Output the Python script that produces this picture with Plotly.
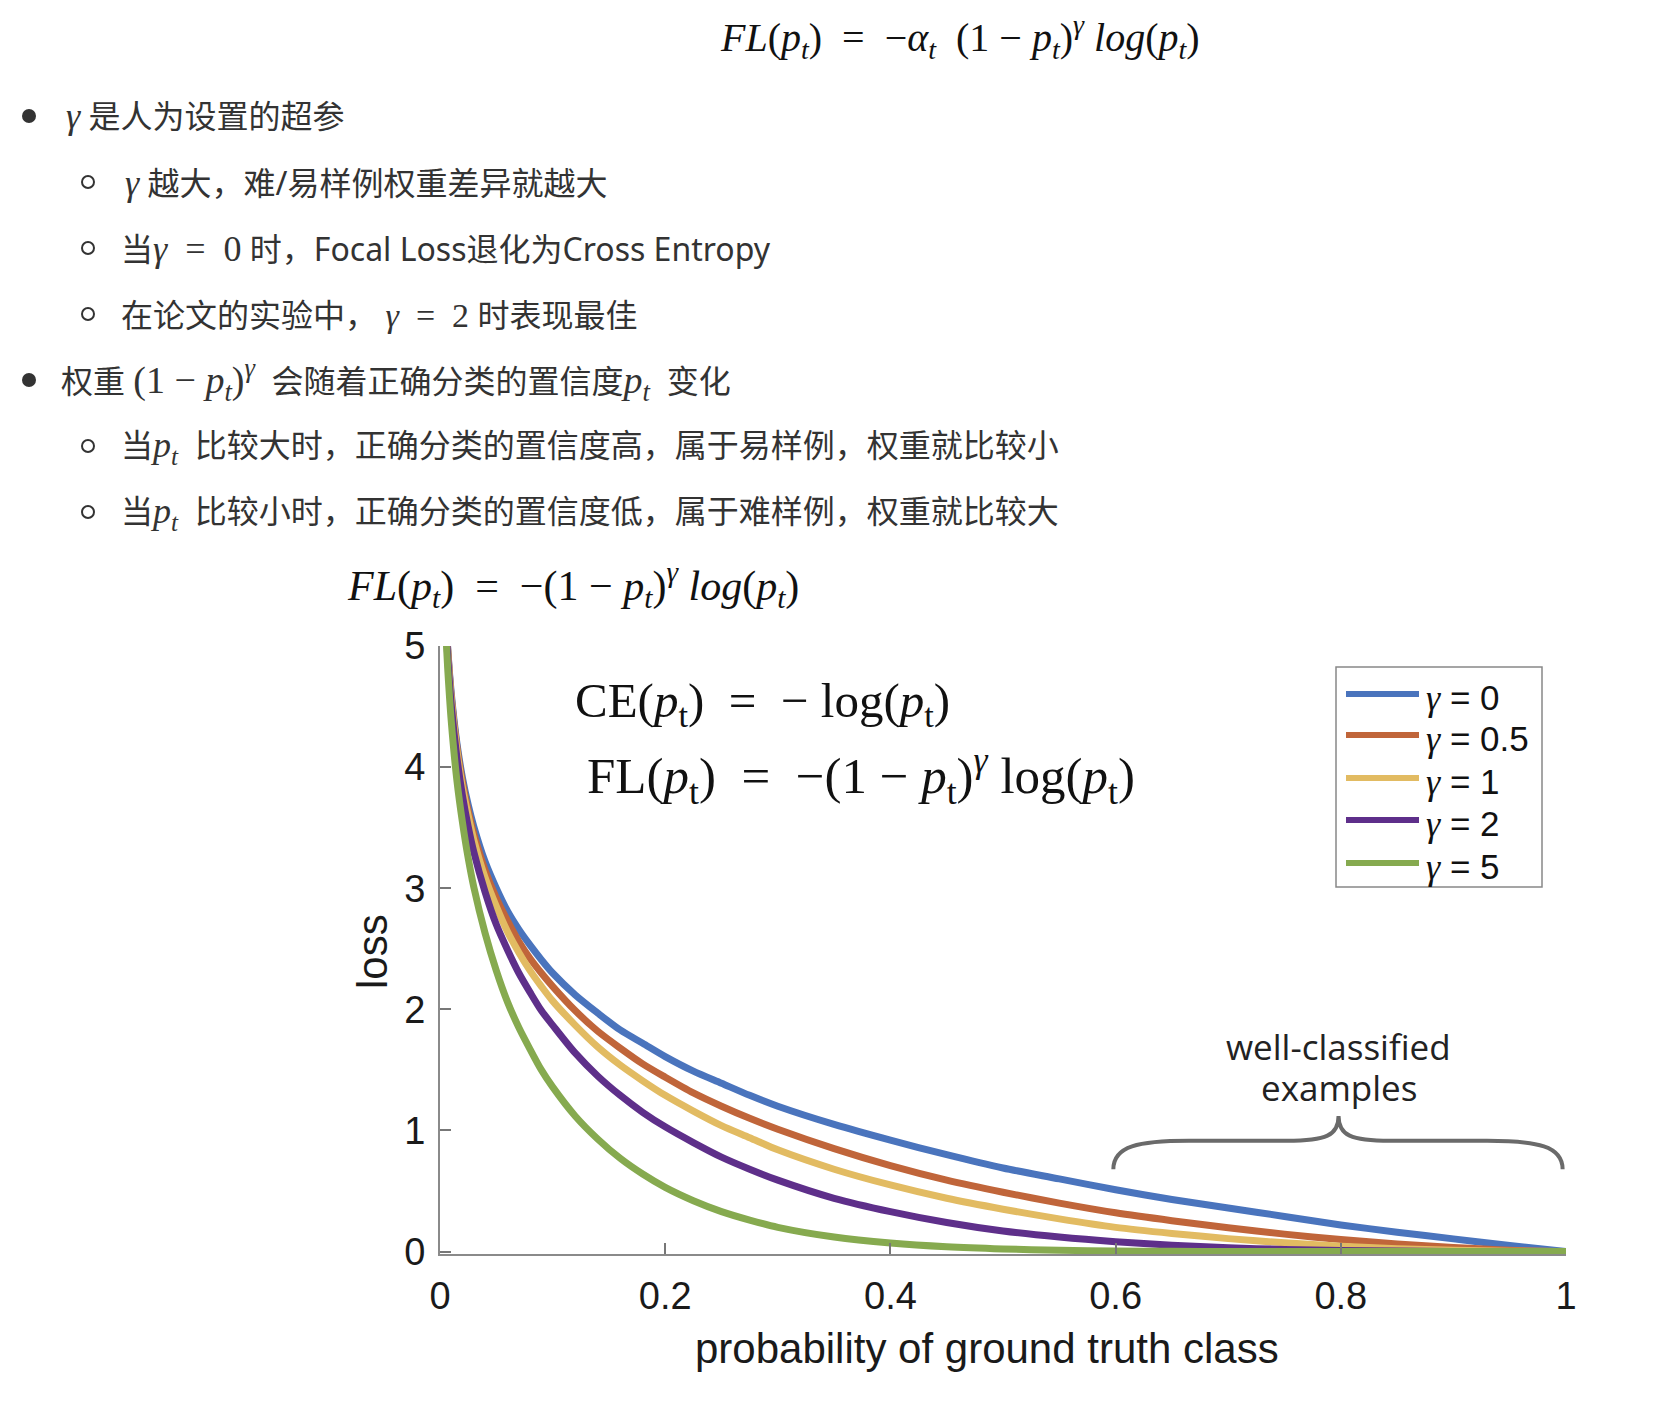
import plotly.graph_objects as go

W, H = 1678, 1414

# ---------------- data ----------------
p_values = [0.005, 0.006, 0.007, 0.01, 0.015, 0.02, 0.025, 0.03, 0.04, 0.05, 0.06, 0.07,
            0.08, 0.09, 0.1, 0.12, 0.14, 0.16, 0.18, 0.2, 0.225, 0.25, 0.275, 0.3, 0.35,
            0.4, 0.45, 0.5, 0.55, 0.6, 0.65, 0.7, 0.75, 0.8, 0.85, 0.9, 0.95, 1.0]
loss_gamma_0 = [5.30, 5.12, 4.96, 4.61, 4.20, 3.91, 3.69, 3.51, 3.22, 3.00, 2.81, 2.66,
                2.53, 2.41, 2.30, 2.12, 1.97, 1.83, 1.72, 1.61, 1.49, 1.39, 1.29, 1.20, 1.05,
                0.92, 0.80, 0.69, 0.60, 0.51, 0.43, 0.36, 0.29, 0.22, 0.16, 0.105, 0.05, 0.0]
loss_gamma_05 = [5.29, 5.10, 4.95, 4.58, 4.17, 3.87, 3.64, 3.45, 3.15, 2.92, 2.73, 2.56,
                 2.42, 2.30, 2.19, 1.99, 1.82, 1.68, 1.55, 1.44, 1.31, 1.20, 1.10, 1.01, 0.85,
                 0.71, 0.59, 0.49, 0.40, 0.32, 0.255, 0.196, 0.144, 0.10, 0.063, 0.033, 0.011, 0.0]
loss_gamma_1 = [5.27, 5.09, 4.93, 4.56, 4.14, 3.83, 3.60, 3.40, 3.09, 2.85, 2.64, 2.47,
                2.32, 2.19, 2.07, 1.87, 1.69, 1.54, 1.41, 1.29, 1.16, 1.04, 0.94, 0.84, 0.68,
                0.55, 0.44, 0.35, 0.27, 0.20, 0.15, 0.107, 0.072, 0.045, 0.024, 0.011, 0.003, 0.0]
loss_gamma_2 = [5.25, 5.06, 4.89, 4.51, 4.08, 3.76, 3.51, 3.30, 2.97, 2.70, 2.49, 2.30,
                2.14, 1.99, 1.87, 1.64, 1.45, 1.29, 1.15, 1.03, 0.90, 0.78, 0.68, 0.59, 0.44,
                0.33, 0.24, 0.17, 0.12, 0.082, 0.053, 0.032, 0.018, 0.009, 0.004, 0.001, 0.0, 0.0]
loss_gamma_5 = [5.17, 4.96, 4.79, 4.38, 3.89, 3.54, 3.25, 3.01, 2.63, 2.32, 2.06, 1.85,
                1.67, 1.50, 1.36, 1.12, 0.93, 0.77, 0.64, 0.53, 0.42, 0.33, 0.26, 0.20, 0.12,
                0.071, 0.040, 0.022, 0.011, 0.005, 0.002, 0.001, 0.0, 0.0, 0.0, 0.0, 0.0, 0.0]
gamma_labels = ["0", "0.5", "1", "2", "5"]
series = [loss_gamma_0, loss_gamma_05, loss_gamma_1, loss_gamma_2, loss_gamma_5]
x_ticks = [0, 0.2, 0.4, 0.6, 0.8, 1]
x_tick_labels = ["0", "0.2", "0.4", "0.6", "0.8", "1"]
y_ticks = [0, 1, 2, 3, 4, 5]
y_tick_labels = ["0", "1", "2", "3", "4", "5"]

# ---------------- styles ----------------
colors = ["#4a74bd", "#c0653a", "#e2bb62", "#5e2f8a", "#86aa4f"]
TXT = "#333333"
CN = "Noto Sans, Noto Sans CJK SC, sans-serif"
SERIF = "Liberation Serif, DejaVu Serif, serif"
SANS = "Liberation Sans, Arial, sans-serif"


def px(x):
    return x / W


def py(y):
    return 1 - y / H


fig = go.Figure()
for vals, col, lab in zip(series, colors, gamma_labels):
    fig.add_trace(go.Scatter(x=p_values, y=vals, mode="lines", name="γ = " + lab,
                             line=dict(color=col, width=7, shape="spline", smoothing=0.8),
                             showlegend=False))

axis_common = dict(showgrid=False, zeroline=False, showline=True, linecolor="#8a8a8a",
                   linewidth=2, ticks="inside", ticklen=11, tickwidth=1.5, tickcolor="#777777",
                   tickfont=dict(family=SANS, size=38, color="#1a1a1a"), mirror=False,
                   automargin=False)

fig.update_layout(
    width=W, height=H, margin=dict(l=0, r=0, t=0, b=0, pad=0, autoexpand=False),
    paper_bgcolor="white", plot_bgcolor="white",
    xaxis=dict(domain=[px(440), px(1566)], range=[0, 1], tickvals=x_ticks,
               ticktext=x_tick_labels, ticklabelstandoff=7, **axis_common),
    yaxis=dict(domain=[py(1254), py(646)], range=[-0.02, 5], tickvals=y_ticks,
               ticktext=y_tick_labels, ticklabelstandoff=5, **axis_common),
    showlegend=False,
)

ann = []


def add_text(x, y, text, size, family=CN, xanchor="left", color=TXT, **kw):
    ann.append(dict(x=px(x), y=py(y), xref="paper", yref="paper", text=text,
                    showarrow=False, xanchor=xanchor, yanchor="middle",
                    font=dict(family=family, size=size, color=color), **kw))


def m(s, size=36):
    return '<span style="font-family:%s;font-size:%dpx">%s</span>' % (SERIF, size, s)


g = m("<i>γ</i>")
pt = m("<i>p</i><sub><i>t</i></sub>")

# top formula
add_text(960, 37,
         "<i>FL</i>(<i>p</i><sub><i>t</i></sub>)  =  −<i>α</i><sub><i>t</i></sub>  (1 − <i>p</i><sub><i>t</i></sub>)<sup><i>γ</i></sup> <i>log</i>(<i>p</i><sub><i>t</i></sub>)",
         40, family=SERIF, xanchor="center", color="#111111")

# bullets
fs = 32
add_text(64, 116, g + " 是人为设置的超参", fs)
add_text(123, 182, g + " 越大，难/易样例权重差异就越大", fs)
add_text(119, 248, "当" + m("<i>γ</i>  =  0") + " 时，Focal Loss退化为Cross Entropy", fs)
add_text(119, 314, "在论文的实验中，" + m(" <i>γ</i>  =  2", 34) + " 时表现最佳", fs)
add_text(59, 380, "权重 " + m("(1 − <i>p</i><sub><i>t</i></sub>)<sup><i>γ</i></sup>", 38) + "  会随着正确分类的置信度" + m("<i>p</i><sub><i>t</i></sub>", 38) + "  变化", fs)
add_text(119, 446, "当" + pt + "  比较大时，正确分类的置信度高，属于易样例，权重就比较小", fs)
add_text(119, 512, "当" + pt + "  比较小时，正确分类的置信度低，属于难样例，权重就比较大", fs)

shapes = []
for yy in (116, 380):
    shapes.append(dict(type="circle", xref="paper", yref="paper",
                       x0=px(22), x1=px(36), y0=py(yy + 7), y1=py(yy - 7),
                       fillcolor="#333333", line=dict(width=0)))
for yy in (182, 248, 314, 446, 512):
    shapes.append(dict(type="circle", xref="paper", yref="paper",
                       x0=px(82), x1=px(94), y0=py(yy + 6), y1=py(yy - 6),
                       fillcolor="rgba(0,0,0,0)", line=dict(width=2, color="#333333")))

# chart title formula
add_text(345, 585,
         "<i>FL</i>(<i>p</i><sub><i>t</i></sub>)  =  −(1 − <i>p</i><sub><i>t</i></sub>)<sup><i>γ</i></sup> <i>log</i>(<i>p</i><sub><i>t</i></sub>)",
         42, family=SERIF, color="#111111")

# in-plot formulas
add_text(573, 703, "CE(<i>p</i><sub>t</sub>)  =  − log(<i>p</i><sub>t</sub>)", 49, family=SERIF, color="#111111")
add_text(585, 776, "FL(<i>p</i><sub>t</sub>)  =  −(1 − <i>p</i><sub>t</sub>)<sup><i>γ</i></sup> log(<i>p</i><sub>t</sub>)", 51, family=SERIF, color="#111111")

# axis titles
add_text(987, 1348, "probability of ground truth class", 42, family=SANS, xanchor="center", color="#1a1a1a")
add_text(372, 952, "loss", 42, family=SANS, xanchor="center", color="#1a1a1a", textangle=-90)

# custom legend
shapes.append(dict(type="rect", xref="paper", yref="paper", x0=px(1336), x1=px(1542),
                   y0=py(887), y1=py(667), line=dict(color="#888888", width=1.5),
                   fillcolor="white", layer="below"))
legend_y = [698, 739, 782, 824, 867]
for ly, col, lab in zip(legend_y, colors, gamma_labels):
    shapes.append(dict(type="line", xref="paper", yref="paper", x0=px(1346), x1=px(1419),
                       y0=py(ly - 4), y1=py(ly - 4), line=dict(color=col, width=6)))
    add_text(1424, ly, m("<i>γ</i>", 36) + " = " + lab, 35, family=SANS, color="#111111")

# brace annotation
shapes.append(dict(type="path", xref="x", yref="y",
                   path="M 0.598,0.68 C 0.598,0.87 0.62,0.915 0.665,0.915 L 0.752,0.915 "
                        "C 0.787,0.915 0.798,0.96 0.798,1.12 C 0.798,0.96 0.809,0.915 0.844,0.915 "
                        "L 0.93,0.915 C 0.975,0.915 0.997,0.87 0.997,0.68",
                   line=dict(color="#6a6a6a", width=4)))
ann.append(dict(x=0.798, y=1.69, xref="x", yref="y", text="well-classified", showarrow=False,
                font=dict(family="Open Sans, sans-serif", size=35, color="#222222"), yanchor="middle"))
ann.append(dict(x=0.798, y=1.355, xref="x", yref="y", text="examples", showarrow=False,
                font=dict(family="Open Sans, sans-serif", size=35, color="#222222"), yanchor="middle"))

fig.update_layout(annotations=ann, shapes=shapes)
fig.write_html("out.html")
